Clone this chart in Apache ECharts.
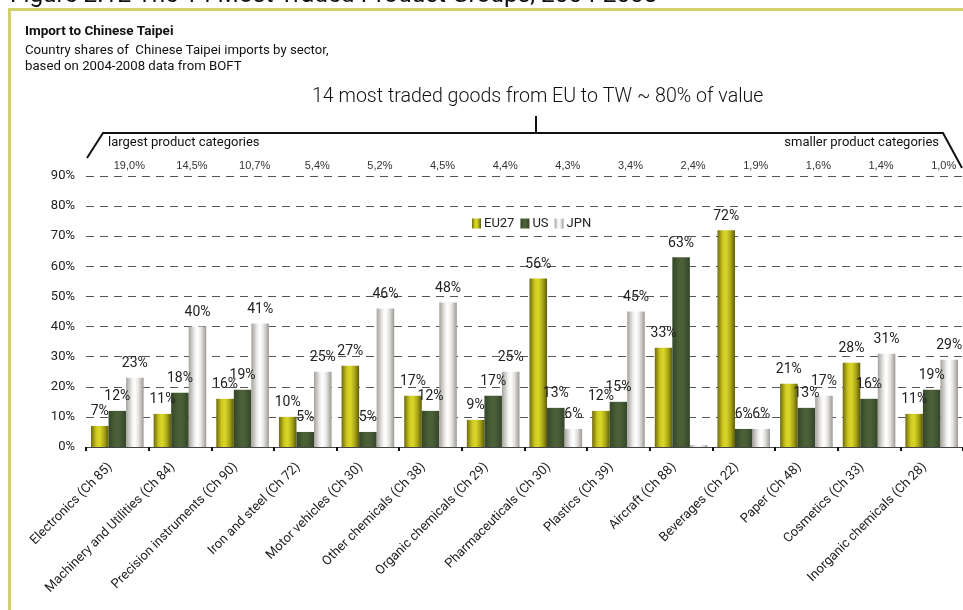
<!DOCTYPE html>
<html>
<head>
<meta charset="utf-8">
<script src="https://cdn.jsdelivr.net/npm/echarts@6/dist/echarts.min.js"></script>
<style>
  html, body { margin: 0; padding: 0; background: #ffffff; }
  #chart { width: 963px; height: 610px; }
</style>
</head>
<body>
<div id="chart"></div>
<script>
// Product groups (HS chapters), ordered by share of EU exports to Chinese Taipei
const categories = [
  'Electronics (Ch 85)', 'Machinery and Utilities (Ch 84)', 'Precision instruments (Ch 90)',
  'Iron and steel (Ch 72)', 'Motor vehicles (Ch 30)', 'Other chemicals (Ch 38)',
  'Organic chemicals (Ch 29)', 'Pharmaceuticals (Ch 30)', 'Plastics (Ch 39)',
  'Aircraft (Ch 88)', 'Beverages (Ch 22)', 'Paper (Ch 48)', 'Cosmetics (Ch 33)',
  'Inorganic chemicals (Ch 28)'
];
// Share of each group in EU exports to TW
const tradeShares = ['19,0%', '14,5%', '10,7%', '5,4%', '5,2%', '4,5%', '4,4%', '4,3%', '3,4%', '2,4%', '1,9%', '1,6%', '1,4%', '1,0%'];
// Country shares of Chinese Taipei imports (%)
const eu27 = [7, 11, 16, 10, 27, 17, 9, 56, 12, 33, 72, 21, 28, 11];
const us   = [12, 18, 19, 5, 5, 12, 17, 13, 15, 63, 6, 13, 16, 19];
const jpn  = [23, 40, 41, 25, 46, 48, 25, 6, 45, 0.6, 6, 17, 31, 29];
// Value axis ticks
const yMin = 0, yMax = 90, yStep = 10;

const FONT = 'Roboto';

function hGrad(stops) {
  return new echarts.graphic.LinearGradient(0, 0, 1, 0, stops.map(s => ({ offset: s[0], color: s[1] })));
}
const euFill  = hGrad([[0, '#6e6a0c'], [0.3, '#cdc81f'], [0.5, '#dad729'], [0.75, '#aaa718'], [1, '#5e5b0a']]);
const usFill  = hGrad([[0, '#354728'], [0.4, '#4b6037'], [0.6, '#4b6037'], [1, '#34452a']]);
const jpnFill = hGrad([[0, '#a5a19c'], [0.35, '#f2f1f0'], [0.5, '#ffffff'], [0.7, '#e6e5e3'], [1, '#9d9994']]);

const labelCfg = {
  show: true,
  position: 'top',
  distance: 7,
  fontFamily: FONT,
  fontSize: 14,
  color: '#222',
  formatter: p => (p.value >= 1 ? Math.round(p.value) + '%' : '')
};

function barSeries(name, data, fill) {
  return {
    name: name,
    type: 'bar',
    data: data,
    barGap: '0%',
    barCategoryGap: '16%',
    itemStyle: { color: fill },
    label: labelCfg,
    emphasis: { disabled: true }
  };
}

const chart = echarts.init(document.getElementById('chart'), null, { renderer: 'canvas' });

chart.setOption({
  backgroundColor: '#ffffff',
  animation: false,
  textStyle: { fontFamily: FONT },
  grid: { left: 86, right: -9, top: 176, bottom: 163, containLabel: false },
  legend: {
    left: 467,
    top: 212,
    itemWidth: 9,
    itemHeight: 10,
    itemGap: 6,
    icon: 'rect',
    textStyle: { fontFamily: FONT, fontSize: 13, color: '#222', padding: [0, 0, 0, -2] },
    data: ['EU27', 'US', 'JPN']
  },
  xAxis: [
    {
      type: 'category',
      position: 'bottom',
      data: categories,
      axisLine: { show: true, lineStyle: { color: '#444', width: 1 } },
      axisTick: { show: true, alignWithLabel: false, length: 4, lineStyle: { color: '#111', width: 2 } },
      axisLabel: { interval: 0, rotate: 45, margin: 11, fontFamily: FONT, fontSize: 13, color: '#222', padding: [0, 10, 0, 0] }
    },
    {
      type: 'category',
      position: 'top',
      data: tradeShares,
      axisLine: { show: false },
      axisTick: { show: false },
      axisLabel: { interval: 0, margin: 5, fontFamily: 'Liberation Sans', fontSize: 11, color: '#333', padding: [0, 0, 0, 24] }
    }
  ],
  yAxis: {
    type: 'value',
    min: yMin,
    max: yMax,
    interval: yStep,
    axisLine: { show: false },
    axisTick: { show: false },
    axisLabel: { formatter: '{value}%', margin: 11, fontFamily: FONT, fontSize: 13, color: '#222' },
    splitLine: { show: true, lineStyle: { color: '#555', width: 1, type: [8, 6] } }
  },
  series: [
    barSeries('EU27', eu27, euFill),
    barSeries('US', us, usFill),
    barSeries('JPN', jpn, jpnFill)
  ],
  graphic: [
    // figure frame
    { type: 'rect', shape: { x: 8, y: 8, width: 1000, height: 3 }, style: { fill: '#d3cf6a' }, silent: true },
    { type: 'rect', shape: { x: 8, y: 8, width: 3, height: 700 }, style: { fill: '#d3cf6a' }, silent: true },
    // figure title
    { type: 'text', left: 10, top: -16, style: { text: 'Figure 2.12 The 14 Most Traded Product Groups, 2004-2008', fontFamily: FONT, fontSize: 24.4, fill: '#111' }, silent: true },
    // panel heading
    { type: 'text', left: 25, top: 25, style: { text: 'Import to Chinese Taipei', fontFamily: FONT, fontWeight: 'bold', fontSize: 13.5, fill: '#111' }, silent: true },
    { type: 'text', left: 25, top: 44, style: { text: 'Country shares of  Chinese Taipei imports by sector,', fontFamily: FONT, fontSize: 13.2, fill: '#111' }, silent: true },
    { type: 'text', left: 25, top: 60, style: { text: 'based on 2004-2008 data from BOFT', fontFamily: FONT, fontSize: 13.2, fill: '#111' }, silent: true },
    // bracket annotation over the groups
    { type: 'text', left: 312, top: 87, style: { text: '14 most traded goods from EU to TW ~ 80% of value', fontFamily: FONT, fontWeight: 300, fontSize: 19.6, fill: '#111' }, silent: true },
    { type: 'polyline', shape: { points: [[87, 158], [103, 133], [943, 133], [962, 168]] }, style: { stroke: '#111', lineWidth: 2, fill: null }, silent: true },
    { type: 'line', shape: { x1: 536, y1: 116, x2: 536, y2: 133 }, style: { stroke: '#111', lineWidth: 2 }, silent: true },
    { type: 'text', left: 108, top: 136, style: { text: 'largest product categories', fontFamily: FONT, fontSize: 13, fill: '#111' }, silent: true },
    { type: 'text', right: 24, top: 136, style: { text: 'smaller product categories', fontFamily: FONT, fontSize: 13, fill: '#111' }, silent: true }
  ]
});
</script>
</body>
</html>
